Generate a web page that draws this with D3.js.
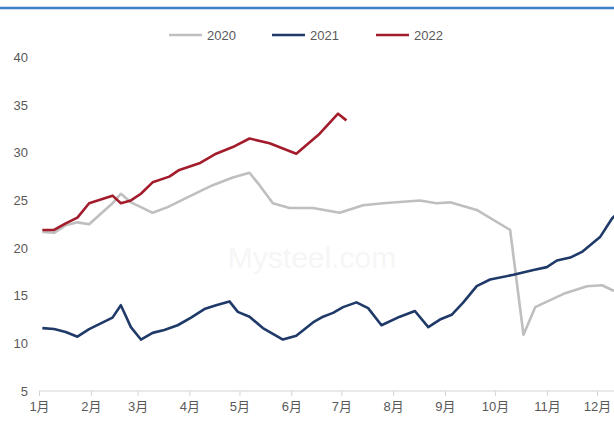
<!DOCTYPE html>
<html>
<head>
<meta charset="utf-8">
<script src="https://cdn.jsdelivr.net/npm/d3@7/dist/d3.min.js"></script>
<style>
  html, body { margin: 0; padding: 0; background: #fff; }
  svg { display: block; }
  text { font-family: "Liberation Sans Narrow", "Arial Narrow", "Liberation Sans", "Noto Sans CJK SC", sans-serif; }
</style>
</head>
<body>
<svg id="chart" width="614" height="426"></svg>
<script>
// Weekly price readings (date, value) for three years, drawn on a shared Jan–Dec axis
const dates2020 = ["01-03","01-10","01-17","01-24","01-31","02-14","02-19","02-25","03-03","03-10","03-19","04-02","04-15","04-27","05-07","05-13","05-21","05-31","06-14","06-30","07-14","07-26","08-17","08-27","09-04","09-20","10-10","10-18","10-25","11-11","11-25","12-04","12-10","12-18"];
const values2020 = [21.7,21.6,22.4,22.7,22.5,24.7,25.7,24.8,24.3,23.7,24.3,25.5,26.6,27.4,27.9,26.6,24.7,24.2,24.2,23.7,24.5,24.7,25.0,24.7,24.8,24.0,21.9,10.9,13.8,15.2,16.0,16.1,15.6,15.1];

const dates2021 = ["01-03","01-10","01-17","01-24","01-31","02-07","02-14","02-19","02-25","03-03","03-10","03-17","03-25","04-02","04-10","04-17","04-25","04-30","05-07","05-15","05-27","06-04","06-14","06-20","06-26","07-02","07-10","07-17","07-25","08-05","08-14","08-22","08-29","09-05","09-12","09-20","09-28","10-12","10-24","11-01","11-07","11-15","11-22","12-03","12-10","12-18"];
const values2021 = [11.6,11.5,11.2,10.7,11.5,12.1,12.7,14.0,11.7,10.4,11.1,11.4,11.9,12.7,13.6,14.0,14.4,13.3,12.8,11.6,10.4,10.8,12.2,12.8,13.2,13.8,14.3,13.7,11.9,12.8,13.4,11.7,12.5,13.0,14.3,16.0,16.7,17.2,17.7,18.0,18.7,19.0,19.6,21.2,23.1,24.5];

const dates2022 = ["01-03","01-10","01-17","01-24","01-31","02-07","02-14","02-19","02-25","03-03","03-10","03-20","03-26","04-07","04-17","04-27","05-07","05-19","06-04","06-18","06-29","07-04"];
const values2022 = [21.9,21.9,22.6,23.2,24.7,25.1,25.5,24.7,25.0,25.7,26.9,27.5,28.2,28.9,29.9,30.6,31.5,31.0,29.9,32.0,34.1,33.4];

const yTicks = [5, 10, 15, 20, 25, 30, 35, 40];
const monthLabels = ["1月","2月","3月","4月","5月","6月","7月","8月","9月","10月","11月","12月"];

const seriesNames = ["2020", "2021", "2022"];
const seriesColors = ["#bfbfbf", "#1f3a68", "#a31c2c"];

const parse = d3.timeParse("%Y-%m-%d");
const toPoints = (ds, vs) => ds.map((d, i) => ({ date: parse("2022-" + d), value: vs[i] }));
const series = [
  toPoints(dates2020, values2020),
  toPoints(dates2021, values2021),
  toPoints(dates2022, values2022)
];

const svg = d3.select("#chart");
const W = 614, H = 426;

const x = d3.scaleTime()
  .domain([parse("2022-01-01"), parse("2022-12-01")])
  .range([39, 597]);
const y = d3.scaleLinear().domain([5, 40]).range([391, 57.5]);

// top rule
svg.append("line")
  .attr("x1", 0).attr("x2", W).attr("y1", 8).attr("y2", 8)
  .attr("stroke", "#3f7fc6").attr("stroke-width", 2.5);

// faint watermark
svg.append("text")
  .attr("x", 312).attr("y", 268)
  .attr("text-anchor", "middle")
  .attr("font-size", 30)
  .attr("fill", "#f6f6f6")
  .text("Mysteel.com");

// y-axis labels (no axis line)
const yAxis = d3.axisLeft(y).tickValues(yTicks).tickSize(0).tickPadding(0).tickFormat(d3.format("d"));
const gy = svg.append("g").attr("transform", "translate(28,0)").call(yAxis);
gy.select(".domain").remove();
gy.selectAll("text")
  .attr("font-size", 13)
  .attr("fill", "#595959")
  .style("font-family", null);

// x-axis at month starts
const months = d3.range(12).map(m => new Date(2022, m, 1));
const xAxis = d3.axisBottom(x).tickValues(months).tickSize(5).tickPadding(6)
  .tickFormat((d, i) => monthLabels[i]);
const gx = svg.append("g").attr("transform", "translate(0,391)").call(xAxis);
gx.select(".domain").remove();
gx.append("line").attr("x1", 39).attr("x2", W).attr("y1", 0).attr("y2", 0)
  .attr("stroke", "#d4d4d4").attr("stroke-width", 1.2);
gx.selectAll(".tick line").attr("stroke", "#d4d4d4");
gx.selectAll(".tick text")
  .attr("font-size", 13)
  .attr("fill", "#595959")
  .style("font-family", null);

// series lines
const line = d3.line().x(d => x(d.date)).y(d => y(d.value));
series.forEach((pts, i) => {
  svg.append("path")
    .datum(pts)
    .attr("fill", "none")
    .attr("stroke", seriesColors[i])
    .attr("stroke-width", 2.6)
    .attr("stroke-linejoin", "round")
    .attr("d", line);
});

// legend
const legendX = [169, 272, 376];
seriesNames.forEach((name, i) => {
  const g = svg.append("g").attr("transform", `translate(${legendX[i]},35)`);
  g.append("line").attr("x1", 0).attr("x2", 33).attr("y1", 0).attr("y2", 0)
    .attr("stroke", seriesColors[i]).attr("stroke-width", 2.6);
  g.append("text").attr("x", 38).attr("y", 0).attr("dy", "0.35em")
    .attr("font-size", 13).attr("fill", "#595959").text(name);
});
</script>
</body>
</html>
